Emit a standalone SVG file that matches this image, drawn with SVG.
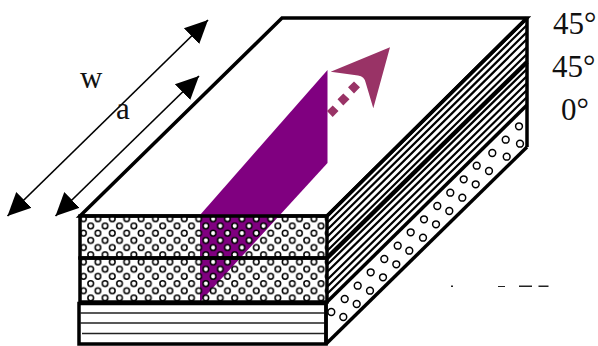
<svg xmlns="http://www.w3.org/2000/svg" width="598" height="346" viewBox="0 0 598 346">
<style>
.t{font-family:"Liberation Serif","Times New Roman",serif;font-size:31px;fill:#111}
.o{fill:none;stroke:#000;stroke-width:3.5}
.h{fill:none;stroke:#000;stroke-width:2.2}
.r{fill:#fff;stroke:#000;stroke-width:1.5}
.d{fill:none;stroke:#000;stroke-width:1.7}
.m{fill:#993366}
</style>
<defs>
<pattern id="dots" patternUnits="userSpaceOnUse" x="87.1" y="222.4" width="14.4" height="14.4">
<circle cx="3.6" cy="3.6" r="2.8" fill="#fff" stroke="#000" stroke-width="1.5"/>
<circle cx="10.8" cy="10.8" r="2.8" fill="#fff" stroke="#000" stroke-width="1.5"/>
</pattern>
<marker id="ah" markerUnits="userSpaceOnUse" markerWidth="24" markerHeight="24" refX="23" refY="12" orient="auto-start-reverse" viewBox="0 0 24 24">
<path d="M0 1L23 12L0 23Z" fill="#000"/>
</marker>
</defs>
<g id="top-face"><path class="o" d="M80 216L282 18H527L327 216Z" fill="#fff"/></g>
<g id="purple-band"><path d="M327.500 70V163L200 302V215Z" fill="#800080"/></g>
<g id="layer-45-a">
<rect x="80" y="216" width="247" height="42" fill="url(#dots)"/>
<rect class="o" x="80" y="216" width="247" height="42"/>
<path class="h" d="M327 223L527 25M327 230L527 32M327 237L527 39M327 244L527 47M327 251L527 54"/>
<path class="o" d="M327 216L527 18"/>
<path d="M327 258L527 62" fill="none" stroke="#000" stroke-width="4.500"/>
</g>
<g id="layer-45-b">
<rect x="80" y="258" width="247" height="44" fill="url(#dots)"/>
<rect class="o" x="80" y="258" width="247" height="44"/>
<path class="h" d="M327 265L527 69M327 272L527 76M327 280L527 83M327 287L527 90M327 294L527 97"/>
<path class="o" d="M327 302L527 105"/>
</g>
<g id="layer-0">
<rect class="o" x="79" y="303.500" width="247" height="40.500" fill="#fff"/>
<path d="M80 313H325M80 323H325M82 333.500H325" stroke="#222" stroke-width="1.700" fill="none"/>
<path class="o" d="M326 344L527 147"/>
<g class="r">
<circle cx="331.300" cy="312" r="3.400"/><circle cx="344.700" cy="299" r="3.400"/><circle cx="357.700" cy="285.700" r="3.400"/><circle cx="370.700" cy="272.300" r="3.400"/><circle cx="384.300" cy="259" r="3.400"/><circle cx="397.700" cy="245.700" r="3.400"/><circle cx="410.700" cy="232.300" r="3.400"/><circle cx="424" cy="219.300" r="3.400"/><circle cx="437.300" cy="206" r="3.400"/><circle cx="450.300" cy="192.700" r="3.400"/><circle cx="463.700" cy="179.300" r="3.400"/><circle cx="476.700" cy="165.700" r="3.400"/><circle cx="492.300" cy="153" r="3.400"/><circle cx="505.700" cy="139.700" r="3.400"/><circle cx="519" cy="126.300" r="3.400"/>
<circle cx="343.300" cy="317" r="3.400"/><circle cx="356.700" cy="304" r="3.400"/><circle cx="370" cy="290.700" r="3.400"/><circle cx="383" cy="277.300" r="3.400"/><circle cx="396.300" cy="264.300" r="3.400"/><circle cx="409.300" cy="250.700" r="3.400"/><circle cx="423" cy="237.700" r="3.400"/><circle cx="436" cy="224.300" r="3.400"/><circle cx="449.300" cy="211" r="3.400"/><circle cx="462.300" cy="197.700" r="3.400"/><circle cx="475.700" cy="184.300" r="3.400"/><circle cx="489" cy="171" r="3.400"/><circle cx="506.700" cy="156.700" r="3.400"/><circle cx="520" cy="143.700" r="3.400"/>
</g>
<path class="o" d="M326 302V344M527 18V147"/>
</g>
<g id="connectors">
<path class="d" d="M7.500 216L208 20" marker-start="url(#ah)" marker-end="url(#ah)"/>
<path class="d" d="M55.500 216L199 76" marker-start="url(#ah)" marker-end="url(#ah)"/>
</g>
<g id="fiber-arrow">
<path class="m" d="M330.700 71.700L390 47.300L373.300 108.300L365.700 82.700Q364.500 76.500 358 75.500Z"/>
<path class="m" d="M332.700 105.500L338.500 111L332.700 117L327 111ZM343.300 93.500L349.500 99.300L343.300 105.500L337.500 99.300ZM354 81.500L360 87.300L354 93.500L348 87.300Z"/>
</g>
<g id="labels">
<text class="t" x="80" y="88">w</text>
<text class="t" x="116" y="119">a</text>
<text class="t" x="553" y="34">45°</text>
<text class="t" x="552" y="77">45°</text>
<text class="t" x="561" y="120">0°</text>
</g>
<path d="M451 285.500h2v1.500h-2ZM498 286h7v1h-7ZM519 285.500h13v1.500h-13ZM538.500 285.500h10v1.500h-10Z" fill="#222"/>
</svg>
